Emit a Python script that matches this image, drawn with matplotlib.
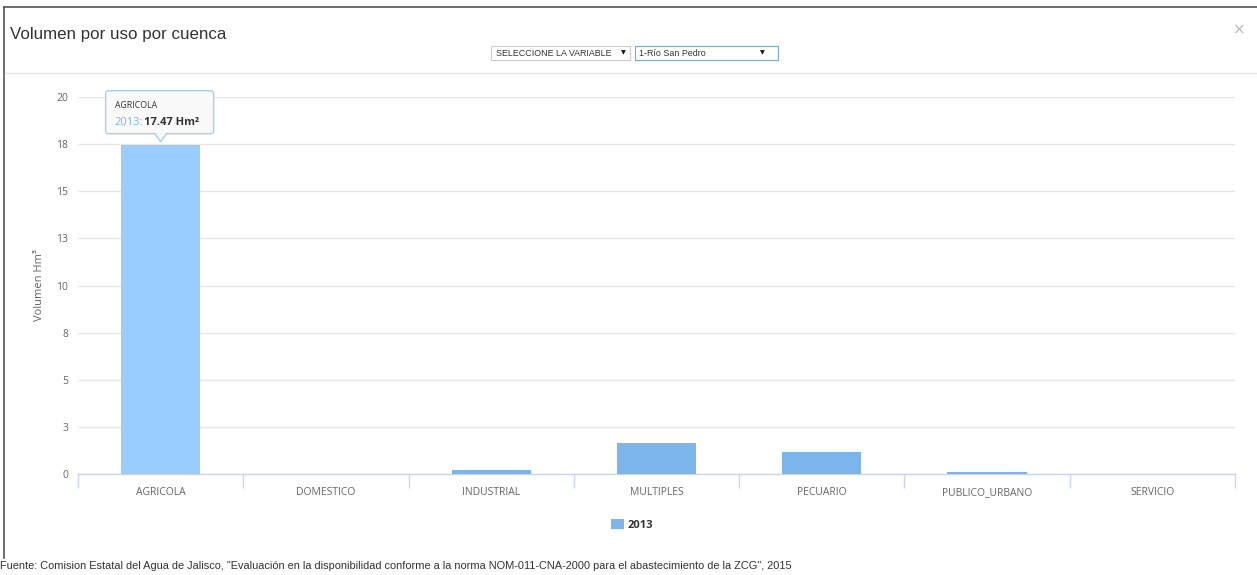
import matplotlib
matplotlib.use("Agg")
import matplotlib.pyplot as plt
from matplotlib.patches import Rectangle, FancyBboxPatch, Polygon
from matplotlib.lines import Line2D
from matplotlib.transforms import IdentityTransform

# ---- data ----
categories = ["AGRICOLA", "DOMESTICO", "INDUSTRIAL", "MULTIPLES", "PECUARIO",
              "PUBLICO_URBANO", "SERVICIO"]
volumes_2013 = [17.47, 0.0, 0.22, 1.65, 1.17, 0.10, 0.0]
y_ticks = [0, 2.5, 5, 7.5, 10, 12.5, 15, 17.5, 20]
y_tick_labels = ["0", "3", "5", "8", "10", "13", "15", "18", "20"]
series_name = "2013"
unit = "Hm\u00b2"

W, H = 1257, 575
DPI = 100
fig = plt.figure(figsize=(W / DPI, H / DPI), dpi=DPI)
fig.patch.set_facecolor("white")

FONT = "Open Sans"
GREY = "#666666"


def px(x, y):
    """figure fraction from top-left pixel coordinates"""
    return x / W, 1 - y / H


# ---- plot area ----
left, right, top, bottom = 78, 1235, 97, 474
ax = fig.add_axes([left / W, 1 - bottom / H, (right - left) / W, (bottom - top) / H])
n = len(categories)
ax.set_xlim(-0.5, n - 0.5)
ax.set_ylim(0, 20)

colors = ["#99ccff"] + ["#7cb5ec"] * (n - 1)
ax.bar(range(n), volumes_2013, width=0.48, color=colors, zorder=3)

ax.set_yticks(y_ticks)
ax.set_yticklabels(y_tick_labels, fontsize=7.5, color=GREY, family=FONT)
ax.yaxis.grid(True, color="#e6e6e6", linewidth=1, zorder=0)
ax.tick_params(axis="y", length=0, pad=7)

# category boundaries carry the tick marks; names sit on minor ticks at centres
ax.set_xticks([i - 0.5 for i in range(n + 1)], minor=False)
ax.set_xticklabels([""] * (n + 1))
ax.set_xticks(range(n), minor=True)
ax.set_xticklabels(categories, minor=True, fontsize=7.5, color=GREY, family=FONT)
ax.tick_params(axis="x", which="major", length=10, color="#ccd6eb", width=1)
ax.tick_params(axis="x", which="minor", length=0, pad=15)
for lbl in ax.get_xticklabels(minor=True):
    lbl.set_verticalalignment("baseline")

for s in ["top", "right", "left"]:
    ax.spines[s].set_visible(False)
ax.spines["bottom"].set_color("#ccd6eb")
ax.spines["bottom"].set_linewidth(1)

ax.set_ylabel("Volumen Hm\u00b3", fontsize=8, color=GREY, family=FONT, labelpad=8)

# ---- tooltip anchored at the hovered bar ----
fig.canvas.draw()
ax_px, ay_px = ax.transData.transform((0, volumes_2013[0]))  # display coords (y up)
tip_y = ay_px + 3
box_w, box_h = 108, 43
bx0 = ax_px - 55
by0 = tip_y + 8
tooltip = FancyBboxPatch((bx0, by0), box_w, box_h,
                         boxstyle="round,pad=0,rounding_size=3",
                         transform=IdentityTransform(), facecolor="#f9f9f9",
                         edgecolor="#a6cdf2", linewidth=1, zorder=10)
fig.patches.append(tooltip)
pointer = Polygon([(ax_px - 6, by0 + 0.5), (ax_px + 6, by0 + 0.5), (ax_px, tip_y)],
                  closed=True, transform=IdentityTransform(), facecolor="#f9f9f9",
                  edgecolor="none", zorder=11)
fig.patches.append(pointer)
fig.lines.append(Line2D([ax_px - 6, ax_px, ax_px + 6], [by0, tip_y, by0],
                        transform=IdentityTransform(), color="#a6cdf2",
                        linewidth=1, zorder=12))
fig.text(bx0 + 9, by0 + box_h - 15, categories[0], transform=IdentityTransform(),
         fontsize=6.3, color="#333333", family=FONT, va="center", zorder=13)
t1 = fig.text(bx0 + 9, by0 + box_h - 32, series_name + ":", transform=IdentityTransform(),
              fontsize=8, color="#7cb5ec", family=FONT, va="center", zorder=13)
fig.canvas.draw()
bb = t1.get_window_extent()
fig.text(bb.x1 + 0.5, by0 + box_h - 32, f"{volumes_2013[0]:.2f} {unit}",
         transform=IdentityTransform(), fontsize=8, color="#333333", family=FONT,
         fontweight="bold", va="center", zorder=13)

# ---- legend ----
fig.patches.append(Rectangle(px(611, 529), 13 / W, 10 / H, transform=fig.transFigure,
                             facecolor="#7cb5ec", edgecolor="none"))
fig.text(*px(628, 525), series_name, fontsize=8, fontweight="bold", color="#333333",
         family=FONT, va="center", ha="left")

# ---- modal chrome: frame, title, selectors, close ----
fig.lines.append(Line2D([4 / W, 1], [1 - 7 / H, 1 - 7 / H], transform=fig.transFigure,
                        color="#555555", linewidth=1.2))
fig.lines.append(Line2D([4 / W, 4 / W], [1 - 7 / H, 1 - 558 / H], transform=fig.transFigure,
                        color="#555555", linewidth=1.2))
fig.lines.append(Line2D([5 / W, 1], [1 - 73 / H, 1 - 73 / H], transform=fig.transFigure,
                        color="#e5e5e5", linewidth=1))
fig.text(*px(10, 35), "Volumen por uso por cuenca", fontsize=12.2, color="#333333",
         family="Liberation Sans", va="center", ha="left")
fig.text(*px(1239, 30), "\u00d7", fontsize=11, color="#bbbbbb", va="center", ha="center",
         family="DejaVu Sans")

fig.patches.append(Rectangle(px(491, 60), 139 / W, 14 / H, transform=fig.transFigure,
                             facecolor="white", edgecolor="#cccccc", linewidth=0.8))
fig.text(*px(496, 53), "SELECCIONE LA VARIABLE", fontsize=6.4, color="#333333",
         family="Liberation Sans", va="center", ha="left")
fig.text(*px(623, 53), "\u25bc", fontsize=4.5, color="#111111", family="DejaVu Sans",
         va="center", ha="center")
fig.patches.append(Rectangle(px(635, 60), 143 / W, 14 / H, transform=fig.transFigure,
                             facecolor="white", edgecolor="#7aa7d8", linewidth=0.8))
fig.text(*px(639, 53), "1-R\u00edo San Pedro", fontsize=6.4, color="#333333",
         family="Liberation Sans", va="center", ha="left")
fig.text(*px(762, 53), "\u25bc", fontsize=4.5, color="#111111", family="DejaVu Sans",
         va="center", ha="center")

# ---- source note ----
fig.text(*px(0, 566),
         "Fuente: Comision Estatal del Agua de Jalisco, \"Evaluaci\u00f3n en la disponibilidad "
         "conforme a la norma NOM-011-CNA-2000 para el abastecimiento de la ZCG\", 2015",
         fontsize=7.9, color="#333333", family="Liberation Sans", va="center", ha="left")

fig.savefig("out.png", dpi=DPI, facecolor="white")
